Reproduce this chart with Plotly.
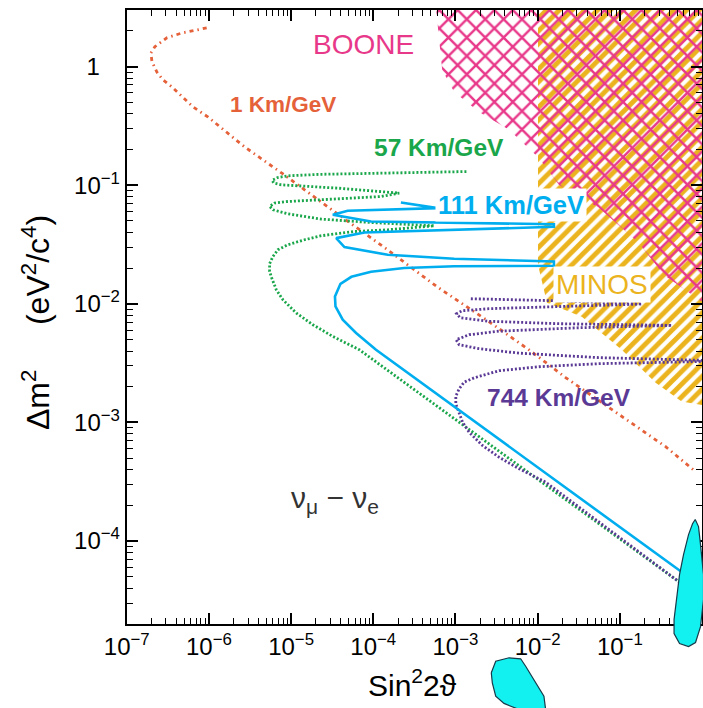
import numpy as np
import plotly.graph_objects as go

# ---------------- data ----------------
# 1 Km/GeV  (orange, dash-dot)
s2t_1km = [9.4e-7, 4.7e-7, 3.08e-7, 2.2e-7, 1.97e-7, 2.03e-7, 2.33e-7, 2.76e-7, 3.55e-7,
           4.82e-7, 6.38e-7, 9.7e-7, 1.36e-6, 2.73e-6, 7.9e-6, 3.38e-5, 1.44e-4, 6.0e-4,
           2.57e-3, 7.85e-3, 0.0221, 0.0604, 0.140, 0.361, 0.836]
dm2_1km = [2.12, 1.92, 1.75, 1.47, 1.30, 1.10, 0.90, 0.773, 0.675, 0.556, 0.458, 0.377,
           0.310, 0.210, 0.125, 0.0597, 0.0291, 0.0139, 0.00706, 0.0041, 0.00238, 0.00147,
           9.96e-4, 6.25e-4, 3.85e-4]

# 57 Km/GeV (green, dotted)
s2t_57 = [1.36e-3, 9.4e-5, 2.22e-5, 9.15e-6, 6.86e-6, 5.88e-6, 6.14e-6, 7.6e-6, 3.67e-5,
          2.07e-4, 1.24e-4, 2.93e-5, 9.15e-6, 6.3e-6, 5.48e-6, 6.02e-6, 9.15e-6, 2.33e-5,
          9.4e-5, 5.52e-4, 1.5e-4, 5.9e-5, 2.33e-5, 1.46e-5, 9.15e-6, 6.92e-6, 6.02e-6,
          5.48e-6, 5.48e-6, 5.8e-6, 6.61e-6, 7.95e-6, 1.156e-5, 1.84e-5, 3.22e-5, 6.78e-5, 0.519]
dm2_57 = [0.1304, 0.1265, 0.1235, 0.120, 0.116, 0.110, 0.1047, 0.1008, 0.0945, 0.0858,
          0.0803, 0.0761, 0.0729, 0.0707, 0.0662, 0.0621, 0.0574, 0.0518, 0.0485, 0.0455,
          0.0421, 0.0407, 0.0375, 0.0347, 0.0315, 0.0286, 0.0251, 0.0218, 0.01875, 0.0166,
          0.01315, 0.01083, 8.37e-3, 6.67e-3, 5.31e-3, 4.1e-3, 4.56e-5]

# 111 Km/GeV (blue, solid)
s2t_111 = [2.17e-4, 6.05e-4, 4.89e-5, 3.22e-5, 9.4e-5, 0.01578, 0.01578, 7.8e-5, 3.54e-5,
           4.46e-5, 1.5e-4, 9.65e-4, 0.01578, 0.01578, 9.65e-4, 2.38e-4, 9.4e-5, 5.42e-5,
           3.99e-5, 3.42e-5, 3.47e-5, 4.25e-5, 6.18e-5, 1.08e-4, 0.648]
dm2_111 = [0.0715, 0.0641, 0.0609, 0.0563, 0.0494, 0.0469, 0.0446, 0.0399, 0.0358, 0.0301,
           0.02593, 0.02399, 0.02276, 0.02094, 0.02074, 0.02004, 0.01864, 0.0169, 0.01476,
           0.01154, 9.51e-3, 7.35e-3, 5.68e-3, 4.1e-3, 5.12e-5]

# 744 Km/GeV (purple, dotted)
s2t_744 = [1.54e-3, 0.01654, 0.186, 0.01813, 2.56e-3, 1.206e-3, 1.034e-3, 1.14e-3, 2.56e-3,
           0.01813, 0.43, 0.0317, 3.39e-3, 1.466e-3, 1.02e-3, 1.11e-3, 1.94e-3, 5.93e-3,
           0.0555, 2.0, 0.0555, 0.01037, 3.39e-3, 1.69e-3, 1.275e-3, 1.11e-3, 1.01e-3,
           1.01e-3, 1.07e-3, 1.22e-3, 1.466e-3, 2.13e-3, 3.39e-3, 5.93e-3, 0.0125, 0.519]
dm2_744 = [0.01104, 0.01062, 9.96e-3, 9.54e-3, 9.1e-3, 8.75e-3, 8.25e-3, 7.64e-3, 7.13e-3,
           6.8e-3, 6.58e-3, 6.29e-3, 5.88e-3, 5.49e-3, 4.98e-3, 4.52e-3, 4.19e-3, 3.84e-3,
           3.52e-3, 3.3e-3, 3.13e-3, 2.95e-3, 2.73e-3, 2.38e-3, 2.185e-3, 1.92e-3, 1.667e-3,
           1.435e-3, 1.27e-3, 1.006e-3, 8.28e-4, 6.4e-4, 5.1e-4, 4.08e-4, 3.14e-4, 4.56e-5]

# BOONE excluded region (pink mesh)
boone_s2t = [5.83e-4, 6.34e-4, 6.9e-4, 9.65e-4, 1.94e-3, 4.49e-3, 0.01037, 0.01813, 0.0555,
             0.1696, 0.341, 1.0, 2.0, 2.0, 5.83e-4]
boone_dm2 = [3.0, 1.68, 0.938, 0.612, 0.415, 0.293, 0.170, 0.1008, 0.0645, 0.0327, 0.01758,
             0.01042, 0.0095, 5.0, 5.0]

# MINOS sensitivity region (gold hatch)
minos_s2t = [0.0101, 0.0101, 0.013, 0.0345, 0.1055, 0.2727, 0.564, 2.0, 2.0]
minos_dm2 = [5.0, 0.0214, 0.0102, 7.78e-3, 4.1e-3, 2.16e-3, 1.5e-3, 1.3e-3, 5.0]

# allowed islands (cyan)
blob1_s2t = [0.827, 0.907, 0.959, 1.043, 1.043, 0.959, 0.834, 0.686, 0.533, 0.457, 0.457,
             0.49, 0.533, 0.596, 0.686, 0.767, 0.827]
blob1_dm2 = [1.52e-4, 1.325e-4, 9.34e-5, 5.22e-5, 3.21e-5, 1.9e-5, 1.396e-5, 1.29e-5,
             1.37e-5, 1.66e-5, 2.18e-5, 3.21e-5, 5.22e-5, 7.69e-5, 1.135e-4, 1.40e-4, 1.52e-4]
blob2_s2t = [2.73e-3, 3.09e-3, 4.49e-3, 6.22e-3, 7.15e-3, 9.46e-3, 0.01193, 0.0126, 6.82e-3,
             3.9e-3, 3.09e-3, 2.81e-3, 2.73e-3]
blob2_dm2 = [7.76e-6, 9.71e-6, 1.038e-5, 1.018e-5, 8.81e-6, 6.39e-6, 4.93e-6, 3.66e-6, 3.66e-6,
             4.28e-6, 4.93e-6, 6.39e-6, 7.76e-6]

x_ticks = [1e-7, 1e-6, 1e-5, 1e-4, 1e-3, 1e-2, 1e-1, 1]
x_ticktext = ["10<sup>−7</sup>", "10<sup>−6</sup>", "10<sup>−5</sup>", "10<sup>−4</sup>",
              "10<sup>−3</sup>", "10<sup>−2</sup>", "10<sup>−1</sup>", "1"]
y_ticks = [1e-4, 1e-3, 1e-2, 1e-1, 1]
y_ticktext = ["10<sup>−4</sup>", "10<sup>−3</sup>", "10<sup>−2</sup>", "10<sup>−1</sup>",
              "1&nbsp;&nbsp;&nbsp;"]

# ---------------- layout geometry ----------------
W, H = 703, 708
PL, PR, PT, PB = 126.7, 702.0, 10.0, 624.0       # plot-area edges in pixels
XR = [-7.0, 0.0]
YR = [float(np.log10(2e-5)), float(np.log10(3.0))]

# overlay (full-figure) axes with identical scale, so islands outside the frame show
xs = (XR[1] - XR[0]) / (PR - PL)
ys = (YR[1] - YR[0]) / (PB - PT)
XR2 = [XR[0] - PL * xs, XR[1] + (W - PR) * xs]
YR2 = [YR[0] - (H - PB) * ys, YR[1] + PT * ys]

FONT = "Liberation Sans, Arial, Helvetica, sans-serif"
C_OR, C_GR, C_BL, C_PU = "#E5613A", "#1AA64A", "#00AEEF", "#5B3A96"
C_PINK, C_GOLD = "#E8388A", "#EBB41E"

fig = go.Figure()

fig.add_trace(go.Scatter(x=minos_s2t, y=minos_dm2, mode="lines", fill="toself",
                         line=dict(width=0, color="rgba(0,0,0,0)"),
                         fillcolor="rgba(0,0,0,0)",
                         fillpattern=dict(shape="/", fgcolor=C_GOLD, fgopacity=1,
                                          bgcolor="rgba(0,0,0,0)", size=9, solidity=0.55),
                         hoverinfo="skip"))
fig.add_trace(go.Scatter(x=boone_s2t, y=boone_dm2, mode="lines", fill="toself",
                         line=dict(width=0, color="rgba(0,0,0,0)"),
                         fillcolor="rgba(0,0,0,0)",
                         fillpattern=dict(shape="x", fgcolor=C_PINK, fgopacity=1,
                                          bgcolor="rgba(0,0,0,0)", size=13, solidity=0.34),
                         hoverinfo="skip"))

fig.add_trace(go.Scatter(x=s2t_1km, y=dm2_1km, mode="lines",
                         line=dict(color=C_OR, width=2.8, dash="4px,4px,1.5px,4px")))
fig.add_trace(go.Scatter(x=s2t_57, y=dm2_57, mode="lines",
                         line=dict(color=C_GR, width=2.8, dash="2px,2px")))
fig.add_trace(go.Scatter(x=s2t_744, y=dm2_744, mode="lines",
                         line=dict(color=C_PU, width=2.8, dash="2px,2px")))
fig.add_trace(go.Scatter(x=s2t_111, y=dm2_111, mode="lines",
                         line=dict(color=C_BL, width=2.6)))

for bx, by in [(blob1_s2t, blob1_dm2), (blob2_s2t, blob2_dm2)]:
    fig.add_trace(go.Scatter(x=bx, y=by, mode="lines", fill="toself", fillcolor="#12F0F0",
                             line=dict(color="#163A4A", width=1.2), xaxis="x2", yaxis="y2",
                             hoverinfo="skip"))

minor_vals = [m * 10.0 ** e for e in range(-8, 1) for m in range(2, 10)]
axis_common = dict(type="log", showgrid=False, zeroline=False, showline=True, linewidth=2,
                   linecolor="black", mirror="ticks", ticks="inside", ticklen=11,
                   tickwidth=1.6, tickcolor="black", automargin=False,
                   tickfont=dict(family=FONT, size=24, color="black"),
                   minor=dict(ticks="inside", ticklen=6, tickwidth=1.2, tickcolor="black",
                              tickmode="array", tickvals=minor_vals, showgrid=False))

fig.update_layout(
    width=W, height=H, margin=dict(l=0, r=0, t=0, b=0, pad=0), autosize=False,
    paper_bgcolor="white", plot_bgcolor="rgba(0,0,0,0)", showlegend=False,
    xaxis=dict(domain=[PL / W, PR / W], range=XR, anchor="y", tickmode="array",
               tickvals=x_ticks, ticktext=x_ticktext, **axis_common),
    yaxis=dict(domain=[(H - PB) / H, (H - PT) / H], range=YR, anchor="x", tickmode="array",
               tickvals=y_ticks, ticktext=y_ticktext, **axis_common),
    xaxis2=dict(type="log", domain=[0, 1], range=XR2, anchor="y2", visible=False,
                automargin=False),
    yaxis2=dict(type="log", domain=[0, 1], range=YR2, anchor="x2", visible=False,
                automargin=False),
)

labels = [
    ("BOONE", -4.12, 0.183, C_PINK, 28, False, None),
    ("1 Km/GeV", -5.103, -0.3227, C_OR, 22.5, True, None),
    ("57 Km/GeV", -3.198, -0.685, C_GR, 24.5, True, None),
    ("111 Km/GeV", -2.324, -1.165, C_BL, 25.5, True, "white"),
    ("MINOS", -1.2197, -1.839, C_GOLD, 28, False, "white"),
    ("744 Km/GeV", -1.7415, -2.791, C_PU, 24.5, True, None),
    ("ν<sub>μ</sub> − ν<sub>e</sub>", -4.47, -3.650, "#333333", 30, False, None),
]
for txt, lx, ly, col, size, bold, bg in labels:
    fig.add_annotation(x=lx, y=ly, xref="x", yref="y", showarrow=False,
                       xanchor="center", yanchor="middle",
                       text=f"<b>{txt}</b>" if bold else txt,
                       font=dict(family=FONT, size=size, color=col),
                       bgcolor=bg if bg else "rgba(0,0,0,0)", borderpad=2)

fig.add_annotation(x=412 / W, y=(H - 683) / H, xref="paper", yref="paper", showarrow=False,
                   xanchor="center", yanchor="middle",
                   text="Sin<sup>2</sup>2ϑ", font=dict(family=FONT, size=30, color="black"))
fig.add_annotation(x=36 / W, y=(H - 323) / H, xref="paper", yref="paper", showarrow=False,
                   xanchor="center", yanchor="middle", textangle=-90,
                   text="Δm<sup>2</sup>&nbsp;&nbsp;&nbsp;&nbsp;&nbsp;(eV<sup>2</sup>/c<sup>4</sup>)",
                   font=dict(family=FONT, size=32, color="black"))

fig.write_html("out.html", config={"displayModeBar": False},
               post_script="document.body.style.margin='0px';"
                           "document.body.style.padding='0px';"
                           "document.body.style.overflow='hidden';")
